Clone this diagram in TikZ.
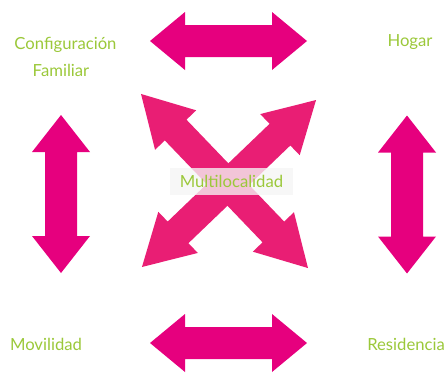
\documentclass[tikz,border=0pt]{standalone}
\usepackage{fontspec}
\setmainfont{Lato}
\usepackage{xcolor}
\definecolor{flecha}{HTML}{E6007E}
\definecolor{diagonal}{HTML}{E91E74}
\definecolor{verde}{HTML}{9BC83A}

\begin{document}
\begin{tikzpicture}[x=0.75pt,y=0.75pt,
  etiqueta/.style={text=verde,font=\fontsize{12.5}{15}\selectfont,inner sep=0pt}]
\useasboundingbox (0,0) rectangle (446,-372);
% flechas dobles: centro x / centro y / angulo / media longitud / punta / color
\foreach \cx/\cy/\ang/\L/\h/\col in {228.5/-41/0/78.5/35/flecha, 228.5/-343/0/78.5/35/flecha,
    61/-194/90/79/37/flecha, 407/-194.5/90/79/37/flecha}
  \fill [\col, shift={(\cx,\cy)}, rotate=\ang]
    (-\L,0) -- ({-\L+\h},29) -- ({-\L+\h},16) -- ({\L-\h},16) -- ({\L-\h},29) -- (\L,0)
    -- ({\L-\h},-29) -- ({\L-\h},-16) -- ({-\L+\h},-16) -- ({-\L+\h},-29) -- cycle;
\foreach \cx/\cy/\ang in {224.5/-181/-46.2, 229/-183.5/43.8}
  \fill [diagonal, shift={(\cx,\cy)}, rotate=\ang]
    (-120.6,0) -- (-70.6,28.5) -- (-70.6,15) -- (70.6,15) -- (70.6,28.5) -- (120.6,0)
    -- (70.6,-28.5) -- (70.6,-15) -- (-70.6,-15) -- (-70.6,-28.5) -- cycle;

\node [etiqueta, anchor=base] (conf) at (65.5,-49) {Configuración};
\node [etiqueta, anchor=base] (fam) at (61,-76) {Familiar};
\node [etiqueta, anchor=base] (hogar) at (410,-46) {Hogar};
\node [etiqueta, anchor=base] (movil) at (46,-350) {Movilidad};
\node [etiqueta, anchor=base west] (resid) at (367,-350) {Residencia};
\node [etiqueta, fill=black!4, fill opacity=0.78, text opacity=1,
  minimum width=92pt, minimum height=20pt] (multi) at (231.5,-181.5) {Multilocalidad};
\end{tikzpicture}
\end{document}
